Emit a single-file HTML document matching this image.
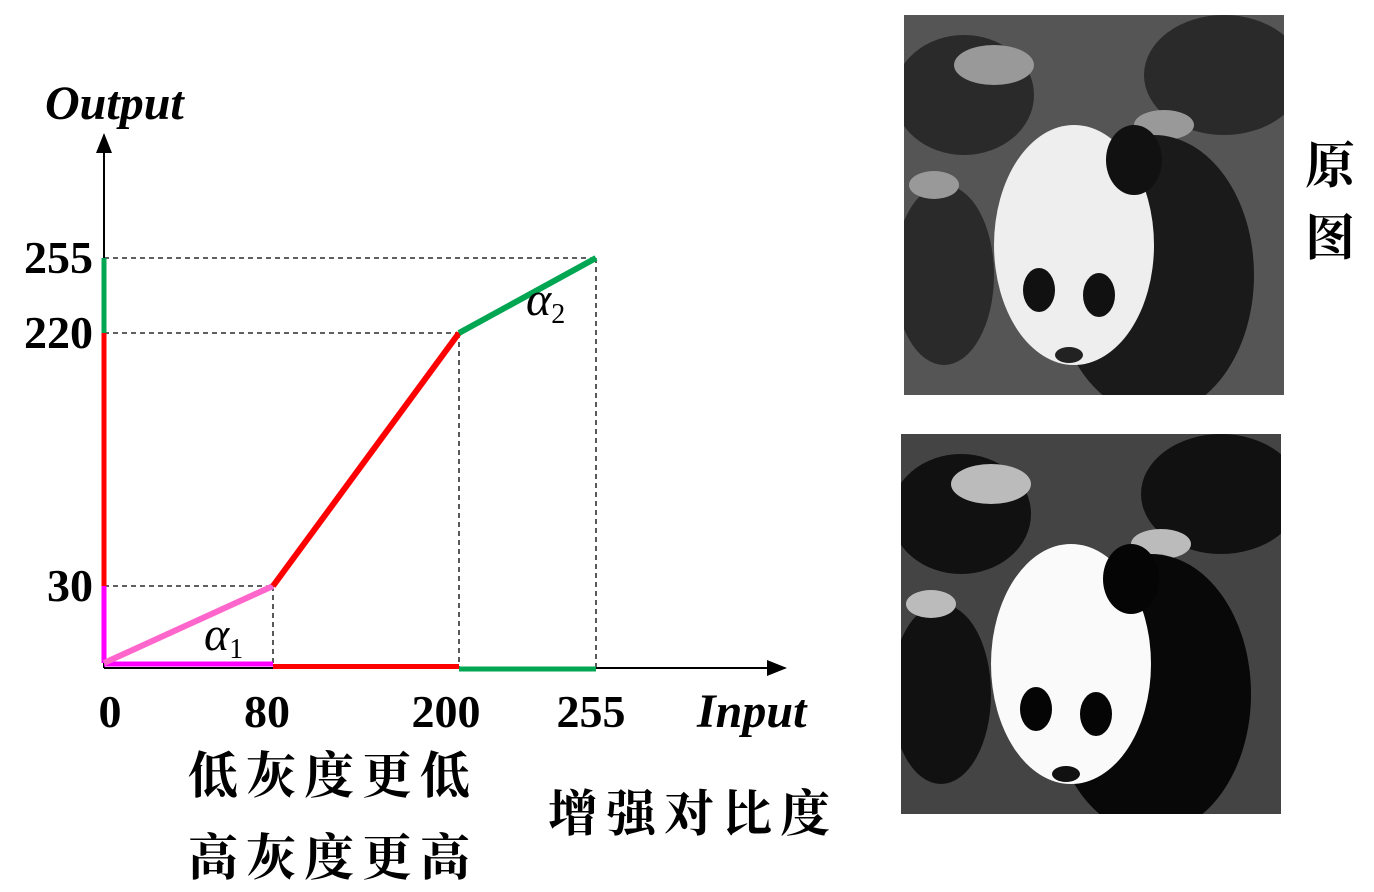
<!DOCTYPE html>
<html><head><meta charset="utf-8">
<style>
body{margin:0;background:#fff;width:1374px;height:892px;overflow:hidden;position:relative;font-family:"Liberation Serif","Noto Serif CJK SC",serif}
.cn{position:absolute;font-family:"Noto Serif CJK SC","WenQuanYi Zen Hei",serif;font-size:50px;font-weight:bold;letter-spacing:8px;color:#000;white-space:nowrap}
</style></head><body>
<svg id="chart" width="1374" height="892" style="position:absolute;left:0;top:0">
<defs><marker id="arr" markerWidth="10" markerHeight="10" refX="9" refY="5" orient="auto"><path d="M0,1 L10,5 L0,9 Z" fill="#000"/></marker></defs>
<g id="g"></g>
</svg>

<div style="position:absolute;left:904px;top:15px;width:380px;height:380px">
<svg width="380" height="380"><rect width="380" height="380" fill="#555"/>
<g fill="#2a2a2a"><ellipse cx="60" cy="80" rx="70" ry="60"/><ellipse cx="320" cy="60" rx="80" ry="60"/><ellipse cx="40" cy="260" rx="50" ry="90"/></g>
<g fill="#999"><ellipse cx="90" cy="50" rx="40" ry="20"/><ellipse cx="260" cy="110" rx="30" ry="15"/><ellipse cx="30" cy="170" rx="25" ry="14"/></g>
<ellipse cx="250" cy="260" rx="100" ry="140" fill="#1a1a1a"/>
<ellipse cx="170" cy="230" rx="80" ry="120" fill="#eee"/>
<ellipse cx="230" cy="145" rx="28" ry="35" fill="#111"/>
<ellipse cx="135" cy="275" rx="16" ry="22" fill="#111"/><ellipse cx="195" cy="280" rx="16" ry="22" fill="#111"/>
<ellipse cx="165" cy="340" rx="14" ry="8" fill="#222"/></svg></div>
<div style="position:absolute;left:901px;top:434px;width:380px;height:380px">
<svg width="380" height="380"><rect width="380" height="380" fill="#444"/>
<g fill="#111"><ellipse cx="60" cy="80" rx="70" ry="60"/><ellipse cx="320" cy="60" rx="80" ry="60"/><ellipse cx="40" cy="260" rx="50" ry="90"/></g>
<g fill="#bbb"><ellipse cx="90" cy="50" rx="40" ry="20"/><ellipse cx="260" cy="110" rx="30" ry="15"/><ellipse cx="30" cy="170" rx="25" ry="14"/></g>
<ellipse cx="250" cy="260" rx="100" ry="140" fill="#080808"/>
<ellipse cx="170" cy="230" rx="80" ry="120" fill="#fafafa"/>
<ellipse cx="230" cy="145" rx="28" ry="35" fill="#050505"/>
<ellipse cx="135" cy="275" rx="16" ry="22" fill="#050505"/><ellipse cx="195" cy="280" rx="16" ry="22" fill="#050505"/>
<ellipse cx="165" cy="340" rx="14" ry="8" fill="#111"/></svg></div>

<div class="cn" style="left:1305px;top:126px;line-height:72px;width:54px">原<br>图</div>
<div class="cn" style="left:188px;top:736px">低灰度更低</div>
<div class="cn" style="left:188px;top:818px">高灰度更高</div>
<div class="cn" style="left:548px;top:774px">增强对比度</div>

<script>
const xTicks=[0,80,200,255];
const yTicks=[0,30,220,255];
const pointsX=[0,80,200,255];
const pointsY=[0,30,220,255];
const segColors=['#ff66cc','#ff0000','#00a651'];
const axisColors=['#ff00ff','#ff0000','#00a651'];
const xR=[104,273,459,596], yR=[663,586,333,258];
function interp(v,d,r){for(let i=0;i<d.length-1;i++){if(v<=d[i+1]||i==d.length-2){return r[i]+(v-d[i])/(d[i+1]-d[i])*(r[i+1]-r[i]);}}}
const X=v=>interp(v,[0,80,200,255],xR), Y=v=>interp(v,[0,30,220,255],yR);
const g=document.getElementById('g'),NS='http://www.w3.org/2000/svg';
function el(t,a,p){const e=document.createElementNS(NS,t);for(const k in a)e.setAttribute(k,a[k]);(p||g).appendChild(e);return e;}
let e=el('line',{x1:X(0),y1:668,x2:785,y2:668,stroke:'#000','stroke-width':2,'marker-end':'url(#arr)'});

e=el('line',{x1:X(0),y1:668,x2:X(0),y2:135,stroke:'#000','stroke-width':2,'marker-end':'url(#arr)'});

for(let i=1;i<pointsX.length;i++){
  e=el('line',{x1:X(0),y1:Y(pointsY[i]),x2:X(pointsX[i]),y2:Y(pointsY[i]),stroke:'#000','stroke-width':1.3,'stroke-dasharray':'5,4'});
  
  e=el('line',{x1:X(pointsX[i]),y1:Y(pointsY[i]),x2:X(pointsX[i]),y2:668,stroke:'#000','stroke-width':1.3,'stroke-dasharray':'5,4'});
  
}
for(let i=0;i<3;i++){
  e=el('line',{x1:X(pointsX[i]),y1:664+i*2.5,x2:X(pointsX[i+1]),y2:664+i*2.5,stroke:axisColors[i],'stroke-width':5});
  
  e=el('line',{x1:X(0),y1:Y(pointsY[i]),x2:X(0),y2:Y(pointsY[i+1]),stroke:axisColors[i],'stroke-width':5});
  
}
for(let i=0;i<3;i++){
  e=el('line',{x1:X(pointsX[i]),y1:Y(pointsY[i]),x2:X(pointsX[i+1]),y2:Y(pointsY[i+1]),stroke:segColors[i],'stroke-width':6});
  
}
const F='font-family:"Liberation Serif",serif;font-weight:bold;font-size:46px';
const xoff={0:6,80:-6,200:-13,255:-5};
xTicks.forEach(v=>{e=el('text',{x:X(v)+xoff[v],y:727,'text-anchor':'middle',style:F});e.textContent=v;
  });
yTicks.slice(1).forEach(v=>{e=el('text',{x:93,y:Y(v)+15,'text-anchor':'end',style:F});e.textContent=v;
  });
e=el('text',{x:45,y:119,style:F+';font-style:italic;font-size:48px'});e.textContent='Output';

e=el('text',{x:697,y:727,style:F+';font-style:italic;font-size:48px'});e.textContent='Input';

const A='font-family:"Liberation Serif",serif;font-style:italic;font-size:48px';
e=el('text',{x:204,y:650,style:A});e.innerHTML='α<tspan font-size="28" font-style="normal" dy="8">1</tspan>';

e=el('text',{x:526,y:315,style:A});e.innerHTML='α<tspan font-size="28" font-style="normal" dy="8">2</tspan>';

</script>
</body></html>
